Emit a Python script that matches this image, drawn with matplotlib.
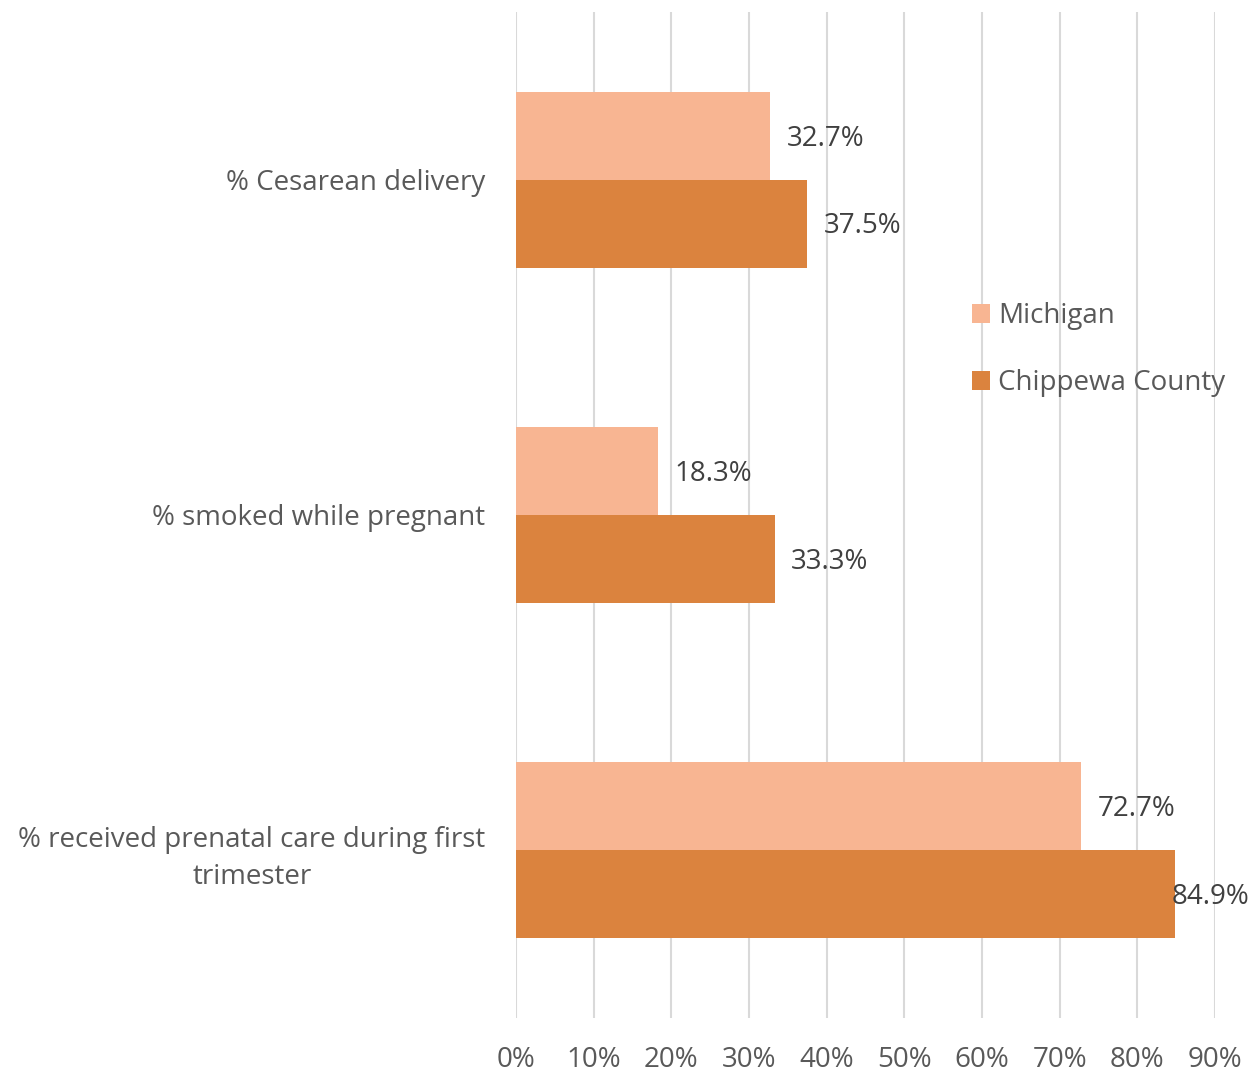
import matplotlib.pyplot as plt
import numpy as np

categories = ['% Cesarean delivery', '% smoked while pregnant',
              '% received prenatal care during first\ntrimester']
michigan = [32.7, 18.3, 72.7]
chippewa = [37.5, 33.3, 84.9]
series_names = ['Michigan', 'Chippewa County']
xticks = [0, 10, 20, 30, 40, 50, 60, 70, 80, 90]

plt.rcParams['font.family'] = ['Open Sans', 'DejaVu Sans']

fig = plt.figure(figsize=(12.6, 10.74), dpi=100)
ax = fig.add_axes([516 / 1260, 1 - 1018 / 1074, (1215 - 516) / 1260, 1006 / 1074])

y = np.arange(len(categories))
h = 0.262
light = '#f8b592'
dark = '#db833e'
b1 = ax.barh(y - h / 2, michigan, height=h, color=light, label=series_names[0], zorder=3)
b2 = ax.barh(y + h / 2, chippewa, height=h, color=dark, label=series_names[1], zorder=3)

for bars, vals in ((b1, michigan), (b2, chippewa)):
    for bar, v in zip(bars, vals):
        off = 12 if v < 80 else -3
        ax.annotate(f'{v:.1f}%', (v, bar.get_y() + bar.get_height() / 2),
                    xytext=(off, -2), textcoords='offset points',
                    va='center', ha='left', fontsize=20, color='#404040', zorder=4)

ax.set_xlim(0, 90)
ax.set_ylim(2.5, -0.5)
ax.set_xticks(xticks)
ax.set_xticklabels([f'{t}%' for t in xticks], fontsize=20, color='#595959')
ax.set_yticks(y)
ax.set_yticklabels(categories, fontsize=20, color='#595959',
                   multialignment='center', linespacing=1.45)
ax.tick_params(axis='both', length=0)
ax.tick_params(axis='x', pad=20)
ax.tick_params(axis='y', pad=22)
ax.grid(axis='x', color='#d9d9d9', linewidth=1.5, zorder=0)
for s in ax.spines.values():
    s.set_visible(False)

leg = ax.legend(loc='upper left', bbox_to_anchor=(972 / 1260, 1 - 302 / 1074),
                bbox_transform=fig.transFigure, frameon=False, fontsize=20,
                handlelength=0.65, handleheight=0.65, handletextpad=0.3,
                labelspacing=1.42, borderaxespad=0, borderpad=0)
for t in leg.get_texts():
    t.set_color('#595959')

fig.savefig('out.png', dpi=100)
